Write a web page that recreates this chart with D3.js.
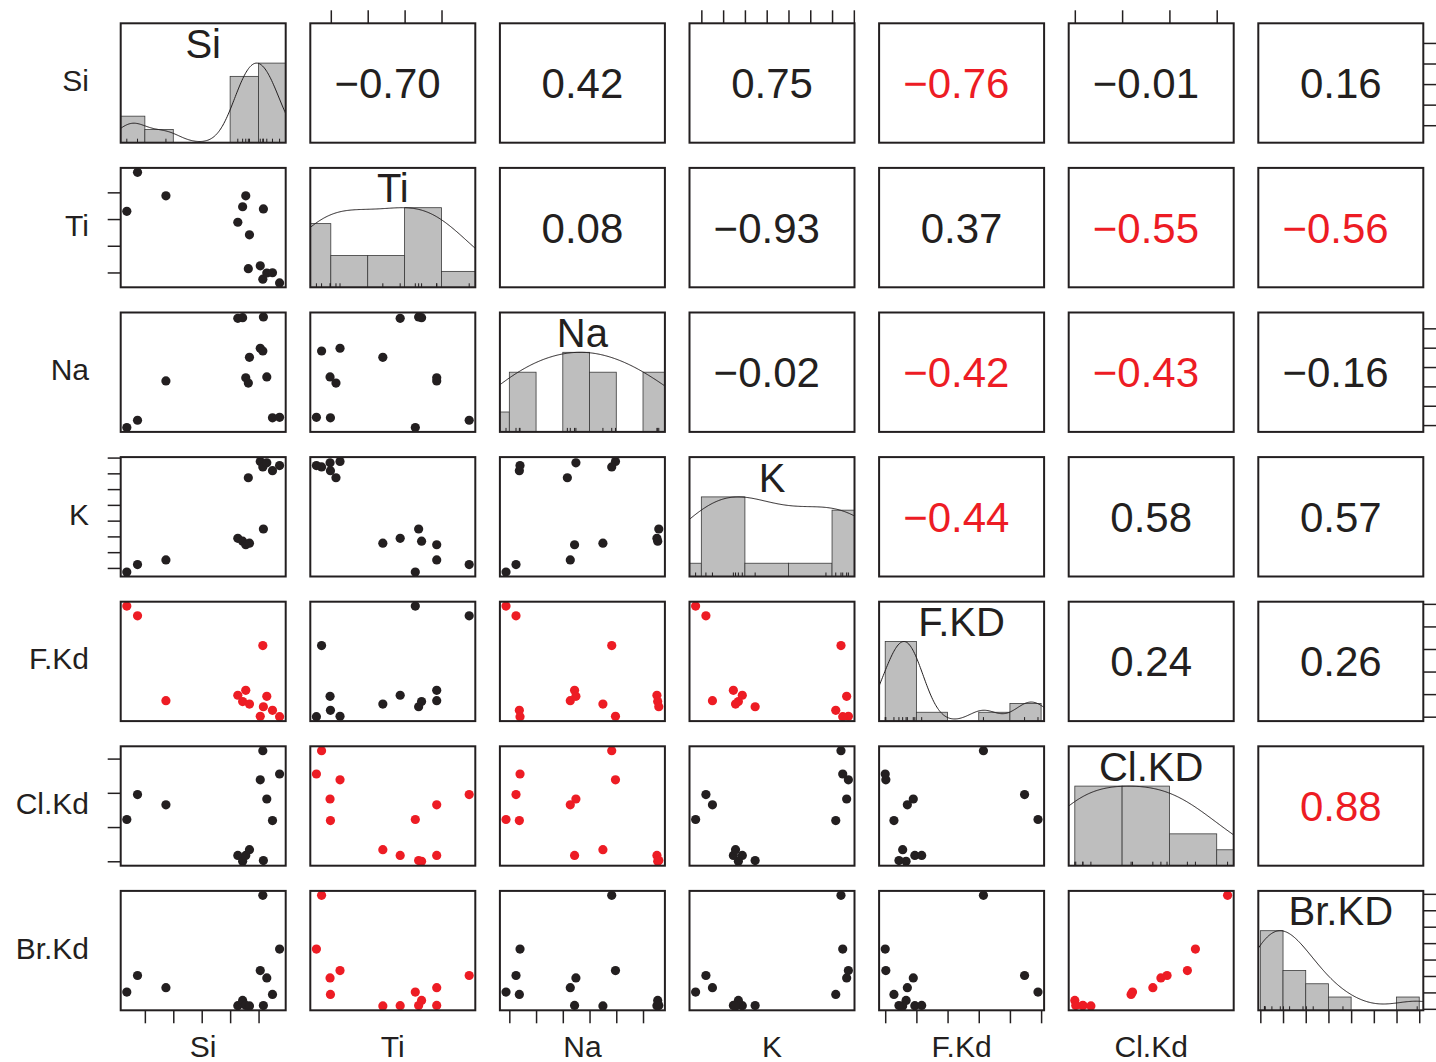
<!DOCTYPE html>
<html>
<head>
<meta charset="utf-8">
<script src="https://cdn.jsdelivr.net/npm/d3@7"></script>
<style>
  body { margin: 0; background: #fff; }
  text { font-family: "Liberation Sans", Arial, Helvetica, sans-serif; }
</style>
</head>
<body>
<svg id="chart" width="1436" height="1062"></svg>
<script>
// variable names (row / column labels and diagonal titles)
var variables = ["Si", "Ti", "Na", "K", "F.Kd", "Cl.Kd", "Br.Kd"];
var diagLabels = ["Si", "Ti", "Na", "K", "F.KD", "Cl.KD", "Br.KD"];

// observations (units are arbitrary: the figure has no tick labels), null = missing
var si   = [0.365, 0.742, 1.741, 4.27, 4.44, 4.55, 4.64, 4.68, 5.06, 5.15, 5.17, 5.29, 5.49, 5.74];
var ti   = [3.29, 4.75, 3.87, 2.88, 3.46, 3.87, 1.14, 2.41, 1.25, 0.75, 3.38, 0.98, 0.99, 0.61];
var na   = [0.876, 1.25, 3.28, 6.52, 6.55, 3.44, 3.17, 4.50, 4.97, 4.83, 6.59, 3.49, 1.375, 1.40];
var k    = [1.737, 2.21, 2.51, 3.88, 3.70, 3.47, 7.72, 3.57, 8.75, 8.41, 4.47, 8.67, 8.17, 8.49];
var fKd  = [4.90, 4.47, 0.71, 0.95, 0.67, 1.17, null, 0.56, 0.02, 3.15, 0.44, 0.90, 0.28, 0.00];
var clKd = [1.22, 1.95, 1.65, 0.17, 0.00, 0.17, null, 0.34, 2.38, 3.23, 0.02, 1.82, 1.19, 2.55];
var brKd = [1.02, 2.03, 1.29, 0.19, 0.51, 0.21, null, 0.18, 2.33, 6.91, 0.20, 1.88, 0.88, 3.64];

// tick marks (no labels are printed)
var siTicks   = [1, 2, 3, 4, 5];
var tiTicks   = [1, 2, 3, 4];
var naTicks   = [1, 2, 3, 4, 5, 6];
var kTicks    = [2, 3, 4, 5, 6, 7, 8, 9];
var fKdTicks  = [0, 1, 2, 3, 4, 5];
var clKdTicks = [0, 1, 2, 3];
var brKdTicks = [0, 1, 2, 3, 4, 5, 6, 7];

// histogram breaks
var siBreaks   = [0, 1, 2, 3, 4, 5, 6];
var tiBreaks   = [0, 1, 2, 3, 4, 5];
var naBreaks   = [0, 1, 2, 3, 4, 5, 6, 7];
var kBreaks    = [0, 2, 4, 6, 8, 10];
var fKdBreaks  = [0, 1, 2, 3, 4, 5];
var clKdBreaks = [0, 1, 2, 3, 4];
var brKdBreaks = [0, 1, 2, 3, 4, 5, 6, 7];

// printed correlation coefficients, upper triangle, row by row
var corrSi  = [-0.70, 0.42, 0.75, -0.76, -0.01, 0.16];
var corrTi  = [0.08, -0.93, 0.37, -0.55, -0.56];
var corrNa  = [-0.02, -0.42, -0.43, -0.16];
var corrK   = [-0.44, 0.58, 0.57];
var corrFKd = [0.24, 0.26];
var corrClKd = [0.88];

// pairs shown in red
var highlighted = [["Si", "F.Kd"], ["Ti", "Cl.Kd"], ["Ti", "Br.Kd"], ["Na", "F.Kd"],
                   ["Na", "Cl.Kd"], ["K", "F.Kd"], ["Cl.Kd", "Br.Kd"]];

var series = [si, ti, na, k, fKd, clKd, brKd];
var ticksList = [siTicks, tiTicks, naTicks, kTicks, fKdTicks, clKdTicks, brKdTicks];
var breaksList = [siBreaks, tiBreaks, naBreaks, kBreaks, fKdBreaks, clKdBreaks, brKdBreaks];
var corrRows = [corrSi, corrTi, corrNa, corrK, corrFKd, corrClKd];

var ink = "#231f20", red = "#ed1c24", barFill = "#bebebe";
var gridLeft = 120.7, gridTop = 23.3, stepX = 189.6, stepY = 144.6, pw = 165, ph = 119.4;
var densityAdjust = 1.5;
var n = variables.length;

function ok(v) { return v !== null && !isNaN(v); }
function px(j) { return gridLeft + j * stepX; }
function py(i) { return gridTop + i * stepY; }
function isRed(a, b) {
  return highlighted.some(function (p) {
    return (p[0] === a && p[1] === b) || (p[0] === b && p[1] === a);
  });
}

// scales with the usual 4% padding
var scalesX = [], scalesY = [];
series.forEach(function (v) {
  var e = d3.extent(v.filter(ok));
  var pad = (e[1] - e[0]) * 0.04;
  scalesX.push(d3.scaleLinear().domain([e[0] - pad, e[1] + pad]).range([0, pw]));
  scalesY.push(d3.scaleLinear().domain([e[0] - pad, e[1] + pad]).range([ph, 0]));
});

var svg = d3.select("#chart");
var defs = svg.append("defs");
defs.append("clipPath").attr("id", "panel-clip")
  .append("rect").attr("width", pw).attr("height", ph);

// kernel density (gaussian, bw.nrd0 * adjust)
function bwNrd0(v) {
  var s = d3.deviation(v);
  var sorted = v.slice().sort(d3.ascending);
  var iqr = (d3.quantile(sorted, 0.75) - d3.quantile(sorted, 0.25)) / 1.34;
  return 0.9 * Math.min(s, iqr) * Math.pow(v.length, -0.2);
}
function density(v, bw, x) {
  var s = 0;
  v.forEach(function (d) { var u = (x - d) / bw; s += Math.exp(-0.5 * u * u); });
  return s / (v.length * bw * Math.sqrt(2 * Math.PI));
}

for (var i = 0; i < n; i++) {
  for (var j = 0; j < n; j++) {
    var cell = svg.append("g").attr("transform", "translate(" + px(j) + "," + py(i) + ")");
    var xs = scalesX[j], ys = scalesY[i];

    if (i === j) {
      // histogram + density on the diagonal
      var vals = series[i].filter(ok);
      var br = breaksList[i];
      var bins = d3.bin().domain([br[0], br[br.length - 1]]).thresholds(br.slice(1, -1))(vals);
      var maxCount = d3.max(bins, function (b) { return b.length; });
      var barMax = ph * 2 / 3;
      var hy = d3.scaleLinear().domain([0, maxCount]).range([ph, ph - barMax]);
      var inner = cell.append("g").attr("clip-path", "url(#panel-clip)");

      inner.selectAll("rect.bar")
        .data(bins.filter(function (b) { return b.length > 0; }))
        .enter().append("rect")
        .attr("class", "bar")
        .attr("x", function (b) { return xs(b.x0); })
        .attr("width", function (b) { return xs(b.x1) - xs(b.x0); })
        .attr("y", function (b) { return hy(b.length); })
        .attr("height", function (b) { return ph - hy(b.length); })
        .attr("fill", barFill)
        .attr("stroke", "#3a3a3a")
        .attr("stroke-width", 0.8);

      var bw = bwNrd0(vals) * densityAdjust;
      var ext = d3.extent(vals);
      var gridAll = d3.range(0, 401).map(function (t) {
        return ext[0] - 3 * bw + t / 400 * (ext[1] - ext[0] + 6 * bw);
      });
      var dMax = d3.max(gridAll, function (x) { return density(vals, bw, x); });
      var dom = xs.domain();
      var grid = d3.range(0, 201).map(function (t) { return dom[0] + t / 200 * (dom[1] - dom[0]); });
      var dy = d3.scaleLinear().domain([0, dMax]).range([ph, ph - barMax]);
      inner.append("path")
        .datum(grid)
        .attr("fill", "none")
        .attr("stroke", ink)
        .attr("stroke-width", 1)
        .attr("d", d3.line()
          .x(function (x) { return xs(x); })
          .y(function (x) { return dy(density(vals, bw, x)); }));

      // rug
      inner.selectAll("line.rug")
        .data(vals)
        .enter().append("line")
        .attr("x1", function (d) { return xs(d); })
        .attr("x2", function (d) { return xs(d); })
        .attr("y1", ph)
        .attr("y2", ph - 4)
        .attr("stroke", ink)
        .attr("stroke-width", 1);

      cell.append("text")
        .attr("x", pw / 2)
        .attr("y", 34.5)
        .attr("text-anchor", "middle")
        .attr("font-size", 40)
        .attr("fill", ink)
        .text(diagLabels[i]);
    } else if (i > j) {
      // scatter in the lower triangle
      var colour = isRed(variables[i], variables[j]) ? red : ink;
      var pts = series[j].map(function (xv, idx) { return [xv, series[i][idx]]; })
        .filter(function (p) { return ok(p[0]) && ok(p[1]); });
      cell.selectAll("circle")
        .data(pts)
        .enter().append("circle")
        .attr("cx", function (p) { return xs(p[0]); })
        .attr("cy", function (p) { return ys(p[1]); })
        .attr("r", 4.6)
        .attr("fill", colour);
    } else {
      // correlation in the upper triangle
      var r = corrRows[i][j - i - 1];
      var colour2 = isRed(variables[i], variables[j]) ? red : ink;
      var cx = pw / 2, base = ph / 2 + 15;
      var label = cell.append("text")
        .attr("y", base)
        .attr("font-size", 42)
        .attr("fill", colour2);
      if (r < 0) {
        label.append("tspan").text("\u2212");
        var numSpan = label.append("tspan").text(d3.format(".2f")(Math.abs(r)));
        var total = label.node().getComputedTextLength();
        var numW = numSpan.node().getComputedTextLength();
        // the digits sit slightly right of centre, the minus hangs to the left
        label.attr("x", cx + 7 - numW / 2 - (total - numW));
      } else {
        label.attr("x", cx).attr("text-anchor", "middle").text(d3.format(".2f")(r));
      }
    }

    cell.append("rect")
      .attr("width", pw)
      .attr("height", ph)
      .attr("fill", "none")
      .attr("stroke", ink)
      .attr("stroke-width", 2);
  }
}

// outer axes: ticks only, alternating sides
function styleAxis(g) {
  g.select(".domain").remove();
  g.selectAll("text").remove();
  g.selectAll("line").attr("stroke", ink).attr("stroke-width", 1.5);
}
for (var a = 0; a < n; a++) {
  if (a % 2 === 1) {
    svg.append("g").attr("transform", "translate(" + px(a) + "," + gridTop + ")")
      .call(d3.axisTop(scalesX[a]).tickValues(ticksList[a]).tickSize(13).tickFormat(""))
      .call(styleAxis);
    svg.append("g").attr("transform", "translate(" + gridLeft + "," + py(a) + ")")
      .call(d3.axisLeft(scalesY[a]).tickValues(ticksList[a]).tickSize(13).tickFormat(""))
      .call(styleAxis);
  } else {
    svg.append("g").attr("transform", "translate(" + px(a) + "," + (py(n - 1) + ph) + ")")
      .call(d3.axisBottom(scalesX[a]).tickValues(ticksList[a]).tickSize(13).tickFormat(""))
      .call(styleAxis);
    svg.append("g").attr("transform", "translate(" + (px(n - 1) + pw) + "," + py(a) + ")")
      .call(d3.axisRight(scalesY[a]).tickValues(ticksList[a]).tickSize(13).tickFormat(""))
      .call(styleAxis);
  }
}

// row labels on the left
svg.selectAll("text.rowlab")
  .data(variables)
  .enter().append("text")
  .attr("class", "rowlab")
  .attr("x", 89)
  .attr("y", function (d, i) { return py(i) + ph / 2 + 8; })
  .attr("text-anchor", "end")
  .attr("font-size", 30)
  .attr("fill", ink)
  .text(function (d) { return d; });

// column labels underneath (none under the last column)
svg.selectAll("text.collab")
  .data(variables.slice(0, n - 1))
  .enter().append("text")
  .attr("class", "collab")
  .attr("x", function (d, j) { return px(j) + pw / 2; })
  .attr("y", 1057)
  .attr("text-anchor", "middle")
  .attr("font-size", 30)
  .attr("fill", ink)
  .text(function (d) { return d; });
</script>
</body>
</html>
